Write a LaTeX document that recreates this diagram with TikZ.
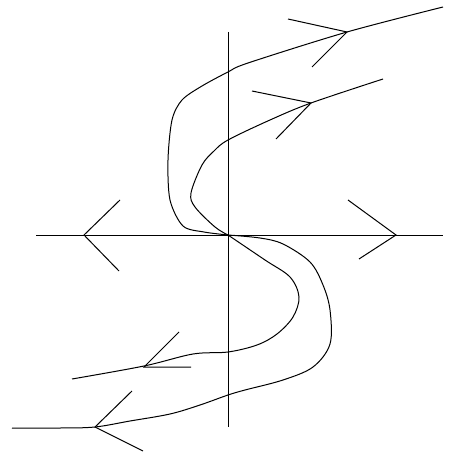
\documentclass[tikz,border=0pt]{standalone}
\usepackage{tikz}

\begin{document}
\begin{tikzpicture}[
  x=1pt,y=-1pt,
  axis/.style={line width=1pt,black},
  orbit/.style={line width=1pt,black,line join=round},
  head/.style={line width=1pt,black,line join=miter}
]
  \useasboundingbox (0,0) rectangle (451,454);

  \coordinate (O) at (228,235);
  \coordinate (tipW) at (84,235);
  \coordinate (tipE) at (396,235);
  \coordinate (tipA) at (347,32);
  \coordinate (tipB) at (311,103);
  \coordinate (tipC) at (144,367);
  \coordinate (tipD) at (95,427);

  \draw[axis] (36,235) -- (443,235);
  \draw[axis] (228,32) -- (228,427);
  \draw[head] (120,200) -- (tipW) -- (119,271);
  \draw[head] (348,200) -- (tipE) -- (359,259);

  \draw[orbit] plot[smooth,tension=0.5] coordinates {
    (443,7) (347,32) (248,63) (228,72) (202,86) (182,100) (172,120)
    (168,160) (170,200) (183,226) (204,232) (228,235)};
  \draw[orbit] plot[smooth,tension=0.55] coordinates {
    (228,235) (260,238) (283,244) (310,262) (323,285) (330,310)
    (330,344) (313,367) (283,380) (245,390) (228,395) (200,405)
    (170,414) (130,421) (95,427) (60,428) (12,428)};
  \draw[orbit] plot[smooth,tension=0.55] coordinates {
    (383,79) (311,103) (270,120) (228,140) (214,151) (202,165)
    (191,193) (195,207) (215,227) (228,235)};
  \draw[orbit] plot[smooth,tension=0.55] coordinates {
    (228,235) (265,260) (290,277) (299,297) (293,317) (277,334)
    (257,345) (228,352) (193,354) (144,366) (72,379)};

  \draw[head] (288,19) -- (tipA) -- (312,67);
  \draw[head] (252,91) -- (tipB) -- (276,139);
  \draw[head] (179,332) -- (tipC) -- (191,367);
  \draw[head] (132,391) -- (tipD) -- (143,451);
\end{tikzpicture}
\end{document}
